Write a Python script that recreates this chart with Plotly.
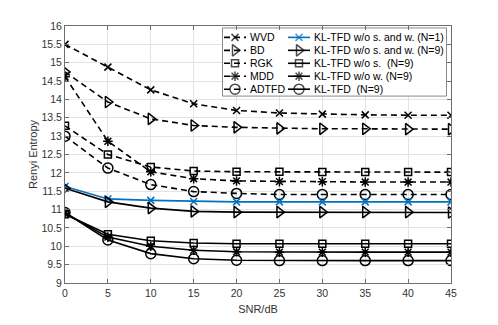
import plotly.graph_objects as go

# ---------------- data ----------------
snr = [0, 5, 10, 15, 20, 25, 30, 35, 40, 45]

wvd = [15.5, 14.88, 14.26, 13.88, 13.70, 13.63, 13.60, 13.58, 13.57, 13.57]
bd = [14.75, 13.93, 13.47, 13.29, 13.24, 13.21, 13.20, 13.20, 13.19, 13.19]
rgk = [13.28, 12.50, 12.16, 12.05, 12.03, 12.03, 12.02, 12.02, 12.02, 12.02]
mdd = [14.62, 12.86, 12.03, 11.84, 11.78, 11.76, 11.76, 11.75, 11.75, 11.75]
adtfd = [13.00, 12.13, 11.68, 11.49, 11.44, 11.41, 11.41, 11.41, 11.41, 11.41]
kl_n1 = [11.63, 11.29, 11.25, 11.22, 11.21, 11.21, 11.21, 11.21, 11.21, 11.21]
kl_sw9 = [11.58, 11.21, 11.04, 10.95, 10.93, 10.93, 10.93, 10.93, 10.93, 10.92]
kl_s9 = [10.87, 10.33, 10.15, 10.09, 10.07, 10.07, 10.07, 10.07, 10.07, 10.07]
kl_w9 = [10.90, 10.25, 10.00, 9.89, 9.85, 9.84, 9.84, 9.84, 9.84, 9.84]
kl_9 = [10.92, 10.17, 9.80, 9.66, 9.62, 9.61, 9.61, 9.61, 9.61, 9.61]

names_left = ["WVD", "BD", "RGK", "MDD", "ADTFD"]
names_right = ["KL-TFD w/o s. and w. (N=1)", "KL-TFD w/o s. and w. (N=9)",
               "KL-TFD w/o s.  (N=9)", "KL-TFD w/o w. (N=9)", "KL-TFD  (N=9)"]
y_ticks = [9, 9.5, 10, 10.5, 11, 11.5, 12, 12.5, 13, 13.5, 14, 14.5, 15, 15.5, 16]
y_tick_labels = ["9", "9.5", "10", "10.5", "11", "11.5", "12", "12.5", "13",
                 "13.5", "14", "14.5", "15", "15.5", "16"]

# ---------------- styles ----------------
BLACK = "#000000"
BLUE = "#0072BD"
DASH = "6px,4px"
FONT = "Liberation Sans, Arial, Helvetica, sans-serif"

left_series = [wvd, bd, rgk, mdd, adtfd]
right_series = [kl_n1, kl_sw9, kl_s9, kl_w9, kl_9]
symbols = ["x-thin-open", "triangle-right-open", "square-open", "asterisk-open", "circle-open"]
sizes = [7, 10, 7, 8, 10]
right_colors = [BLUE, BLACK, BLACK, BLACK, BLACK]
right_symbols = ["x-thin-open", "triangle-right-open", "square-open", "asterisk-open", "circle-open"]

fig = go.Figure()

for name, vals, sym, sz in zip(names_left, left_series, symbols, sizes):
    fig.add_trace(go.Scatter(
        x=snr, y=vals, name=name, mode="lines+markers", showlegend=False,
        line=dict(color=BLACK, width=1.6, dash=DASH),
        marker=dict(symbol=sym, size=sz, color=BLACK, line=dict(width=1.5, color=BLACK)),
    ))

for name, vals, sym, sz, col in zip(names_right, right_series, right_symbols, sizes, right_colors):
    fig.add_trace(go.Scatter(
        x=snr, y=vals, name=name, mode="lines+markers", showlegend=False,
        line=dict(color=col, width=1.6),
        marker=dict(symbol=sym, size=sz, color=col, line=dict(width=1.5, color=col)),
    ))

# ---------------- legend (drawn on an overlay axis in pixel units) ----------------
LX0, LX1, LY0, LY1 = 222.5, 446.5, 27, 97
fig.add_trace(go.Scatter(
    x=[LX0, LX1, LX1, LX0, LX0], y=[LY0, LY0, LY1, LY1, LY0],
    xaxis="x2", yaxis="y2", mode="lines", fill="toself", fillcolor="white",
    line=dict(color="#8a8a8a", width=1), showlegend=False, hoverinfo="skip",
))

row_y = [36.7, 50.0, 63.3, 76.6, 89.9]
for i in range(5):
    yy = row_y[i]
    # left column (dashed keys)
    fig.add_trace(go.Scatter(
        x=[224, 235, 246], y=[yy, yy, yy], xaxis="x2", yaxis="y2",
        mode="lines+markers", showlegend=False, hoverinfo="skip",
        line=dict(color=BLACK, width=1.6, dash=DASH),
        marker=dict(symbol=symbols[i], size=[0, sizes[i], 0], color=BLACK,
                    line=dict(width=1.5, color=BLACK)),
    ))
    fig.add_annotation(x=248, y=yy, xref="x2", yref="y2", text=names_left[i],
                       showarrow=False, xanchor="left", yanchor="middle",
                       font=dict(family=FONT, size=10.5, color="#000"))
    # right column (solid keys)
    fig.add_trace(go.Scatter(
        x=[288, 299, 310], y=[yy, yy, yy], xaxis="x2", yaxis="y2",
        mode="lines+markers", showlegend=False, hoverinfo="skip",
        line=dict(color=right_colors[i], width=1.6),
        marker=dict(symbol=right_symbols[i], size=[0, sizes[i], 0], color=right_colors[i],
                    line=dict(width=1.5, color=right_colors[i])),
    ))
    fig.add_annotation(x=312, y=yy, xref="x2", yref="y2", text=names_right[i],
                       showarrow=False, xanchor="left", yanchor="middle",
                       font=dict(family=FONT, size=10.5, color="#000"))

AX = "#6e6e6e"
fig.update_layout(
    width=490, height=317,
    margin=dict(l=57, r=47, t=17, b=36),
    paper_bgcolor="white", plot_bgcolor="white",
    font=dict(family=FONT, size=10, color="#262626"),
    showlegend=False,
    xaxis=dict(
        range=[0, 45], tickmode="array", tickvals=snr, ticktext=[str(v) for v in snr],
        showgrid=True, gridcolor="#e3e3e3", gridwidth=1, zeroline=False,
        showline=True, linecolor=AX, linewidth=1, mirror="ticks",
        ticks="inside", ticklen=4, tickcolor=AX, tickfont=dict(size=10.5, color="#333"),
        title=dict(text="SNR/dB", font=dict(size=11, color="#333"), standoff=7),
    ),
    yaxis=dict(
        range=[9, 16], tickmode="array", tickvals=y_ticks, ticktext=y_tick_labels,
        showgrid=True, gridcolor="#e3e3e3", gridwidth=1, zeroline=False,
        showline=True, linecolor=AX, linewidth=1, mirror="ticks",
        ticks="inside", ticklen=4, tickcolor=AX, tickfont=dict(size=10.5, color="#333"),
        title=dict(text="Renyi Entropy", font=dict(size=11, color="#333"), standoff=1),
    ),
    xaxis2=dict(range=[65, 451], overlaying="x", visible=False, fixedrange=True),
    yaxis2=dict(range=[289, 25], overlaying="y", visible=False, fixedrange=True),
)

fig.write_html("out.html")
